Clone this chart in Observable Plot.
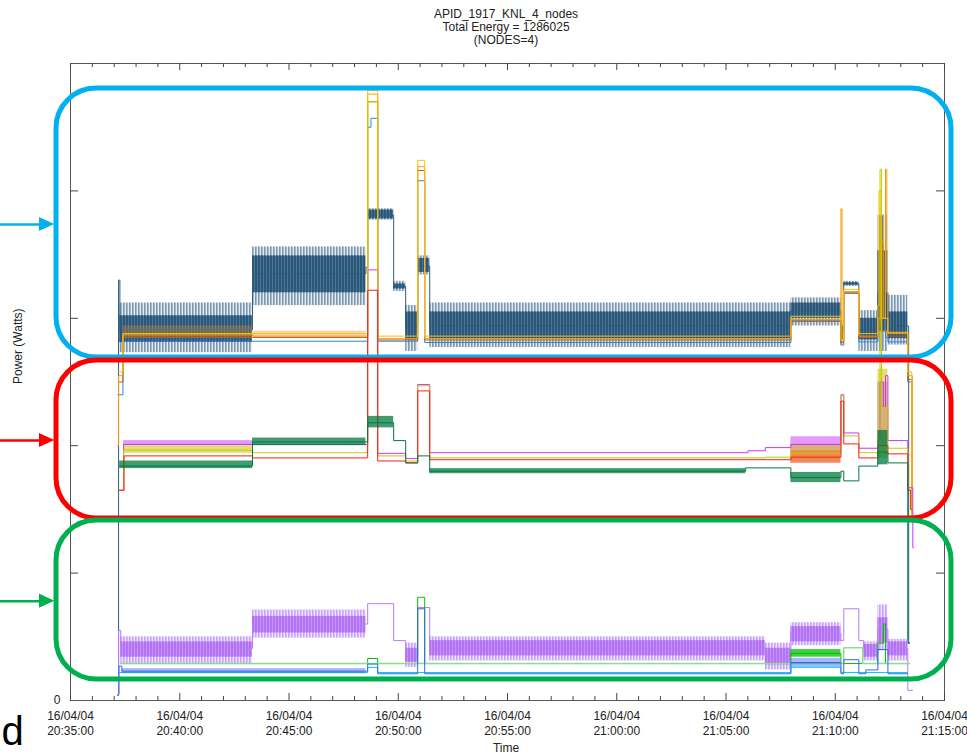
<!DOCTYPE html>
<html><head><meta charset="utf-8">
<script src="https://cdn.jsdelivr.net/npm/d3@7"></script>
<script src="https://cdn.jsdelivr.net/npm/@observablehq/plot@0.6"></script>
<style>
html,body{margin:0;padding:0;background:#fff;}
#chart{width:967px;height:755px;overflow:hidden;}
svg{display:block;}
</style></head><body><div id="chart"></div>
<script>
// ---------- text ----------
const titleLines = ["APID_1917_KNL_4_nodes", "Total Energy = 1286025", "(NODES=4)"];
const xLabel = "Time";
const yLabel = "Power (Watts)";
const cornerLetter = "d";

// ---------- axes ----------
const startTime = new Date(2016, 3, 4, 20, 35, 0);   // minutes are counted from here
const endMinute = 40;
const majorTickMinutes = [0, 5, 10, 15, 20, 25, 30, 35, 40];
const minorTickMinutes = d3.range(1, 40).filter(m => m % 5 !== 0);
const yTickValues = [100, 200, 300, 400];
const yTickLabels = [{v: 0, label: "0"}];

// ---------- top group (blue box) ----------
// noisy total trace: [t0, t1, low, high]
const navyEnvelope = [
  [2.2, 8.33, 273, 312], [8.33, 13.52, 310, 356], [13.6, 14.79, 377, 386],
  [14.79, 15.34, 321, 329], [15.34, 15.89, 274, 310], [15.89, 16.44, 334, 349],
  [16.44, 32.97, 277, 312], [32.97, 35.26, 294, 316], [35.26, 35.39, 279, 298],
  [35.39, 36.08, 325, 329], [36.08, 36.95, 274, 306], [36.95, 37.41, 274, 381],
  [37.41, 38.32, 279, 318]
];
const navyCore = [
  [2.2, 8.33, 281, 302], [8.33, 13.52, 320, 349], [13.6, 14.79, 378, 385],
  [14.79, 15.34, 323, 327], [15.34, 15.89, 283, 305], [15.89, 16.44, 336, 347],
  [16.44, 32.97, 284, 305], [32.97, 35.26, 300, 312], [35.26, 35.39, 283, 294],
  [35.39, 36.08, 326, 328], [36.08, 36.95, 283, 300], [36.95, 37.41, 290, 353],
  [37.41, 38.32, 284, 305]
];
const navyTrace = [[2.15, 4], [2.2, 330], [2.26, 291], [8.33, 335], [13.52, 340], [13.6, 381], [14.79, 325],
  [15.34, 294], [15.89, 341], [16.44, 294], [32.97, 306], [35.26, 289], [35.39, 327], [36.08, 291],
  [36.95, 320], [37.41, 294], [38.32, 294], [38.36, 45], [38.42, 45]];
const orangeNode = [[2.15, 200], [2.2, 255], [2.4, 287], [8.33, 286], [13.6, 476], [14.06, 284], [15.89, 419],
  [16.21, 284], [32.97, 299], [35.26, 386], [35.31, 282], [35.39, 321], [36.08, 286], [36.95, 300], [37.1, 360],
  [37.2, 300], [37.3, 417], [37.36, 320], [37.41, 288], [38.32, 255], [38.53, 140], [38.56, 140]];
const darkOrangeNode = [[2.2, 250], [2.4, 285], [8.33, 285], [13.6, 470], [14.06, 283], [15.89, 416], [16.21, 283],
  [32.97, 298], [35.26, 281], [35.39, 320], [36.08, 285], [36.95, 295], [37.05, 380], [37.15, 290], [37.41, 286],
  [38.32, 252], [38.5, 140], [38.53, 140]];
const blueNode = [[2.17, 240], [2.4, 282], [8.33, 282], [13.6, 450], [13.75, 457], [14.06, 282], [15.89, 408],
  [16.21, 281], [32.97, 297.6], [35.26, 279], [35.39, 319.6], [36.08, 281.5], [36.95, 290], [37.15, 330],
  [37.3, 285], [37.41, 281.5], [38.32, 250], [38.5, 140], [38.53, 140]];
const goldNode = [[2.2, 258], [2.4, 288], [8.33, 288], [13.6, 479], [14.06, 286], [15.89, 424], [16.21, 286],
  [32.97, 301.6], [35.26, 283], [35.39, 322.7], [36.08, 288], [36.95, 310], [37.0, 400], [37.1, 300],
  [37.41, 289], [38.32, 258], [38.5, 140], [38.53, 140]];
const orangeNoise = [[2.4, 8.33, 284, 294], [8.33, 13.52, 285, 290]];

// ---------- middle group (red box) ----------
const purpleMid = [[2.22, 165], [2.43, 201], [8.33, 201], [13.6, 338], [14.06, 194], [15.34, 190], [15.89, 248],
  [16.44, 194.5], [31.0, 196], [31.8, 198.5], [32.97, 201], [35.26, 240], [35.39, 210], [36.08, 198],
  [36.95, 205], [37.05, 250], [37.2, 230], [37.3, 255], [37.41, 204], [38.32, 167], [38.55, 120], [38.6, 120]];
const yellowMid = [[2.22, 165], [2.43, 196.5], [8.33, 194.5], [13.6, 470], [14.06, 192], [15.34, 188], [15.89, 247],
  [16.44, 190.5], [31.8, 191], [32.97, 194], [35.26, 239], [35.39, 207.7], [36.08, 194.5], [36.95, 205],
  [37.05, 417], [37.12, 230], [37.41, 198], [38.32, 165], [38.5, 140], [38.55, 140]];
const redMid = [[2.22, 165], [2.45, 192], [8.33, 190.4], [13.6, 322], [14.06, 188], [15.34, 186.5], [15.89, 243],
  [16.44, 189], [32.97, 191], [35.26, 235], [35.39, 201.4], [36.08, 190.4], [36.95, 200], [37.41, 193.6],
  [38.32, 165], [38.45, 150], [38.5, 150]];
const greenMid = [[2.25, 184], [8.33, 203], [13.6, 218], [14.79, 204], [15.34, 186.5], [15.89, 192], [16.44, 180],
  [30.9, 182.6], [32.97, 175], [35.26, 180], [35.39, 172.4], [36.08, 184], [36.95, 195], [37.41, 186.5],
  [38.32, 45], [38.4, 45]];
const purpleNoise = [[2.43, 8.33, 200, 204], [32.97, 35.26, 196, 207], [36.95, 37.41, 200, 250]];
const yellowNoise = [[2.43, 8.33, 194, 200], [32.97, 35.26, 187, 201], [36.95, 37.41, 190, 260]];
const redNoise = [[32.97, 35.26, 186, 196]];
const greenNoise = [[2.25, 8.33, 182, 188], [8.33, 13.52, 200, 206], [13.6, 14.79, 214, 223],
  [16.44, 30.9, 178, 182], [32.97, 35.26, 171, 179], [36.95, 37.41, 185, 212]];

// ---------- bottom group (green box) ----------
const lavenderTrace = [[2.17, 5], [2.2, 55], [2.3, 41], [8.33, 60], [13.6, 76], [14.79, 47], [15.34, 35],
  [15.89, 73], [16.44, 41], [31.8, 35], [32.97, 52.5], [35.26, 47], [35.39, 72], [36.08, 47], [36.3, 39],
  [36.95, 56], [37.41, 41], [38.32, 8], [38.55, 8]];
const lavenderEnvelope = [[2.3, 8.33, 29, 50], [8.33, 13.52, 49, 71], [15.34, 15.89, 26, 45], [16.44, 31.8, 31, 50],
  [31.8, 32.97, 24, 45], [32.97, 35.26, 43, 61], [36.3, 36.95, 31, 46], [36.95, 37.41, 39, 75], [37.41, 38.32, 31, 48]];
const lavenderCore = [[2.3, 8.33, 34, 46], [8.33, 13.52, 53, 66], [15.34, 15.89, 30, 41], [16.44, 31.8, 35, 47],
  [31.8, 32.97, 28, 41], [32.97, 35.26, 46, 58], [36.3, 36.95, 34, 44], [36.95, 37.41, 45, 65], [37.41, 38.32, 35, 46]];
const lightGreenLow = [[2.3, 29], [35.39, 41.5], [36.26, 29], [38.4, 29]];
const brightGreenLow = [[2.3, 29], [13.6, 33], [14.06, 29], [15.89, 81], [16.21, 29], [32.97, 37], [35.26, 29],
  [36.95, 45], [37.2, 60], [37.3, 29], [38.32, 29], [38.4, 29]];
const brightGreenNoise = [[32.97, 35.26, 34, 40]];
const blueLow = [[2.2, 5], [2.22, 27], [2.35, 23], [13.6, 28.6], [14.06, 21], [15.89, 72], [16.21, 21],
  [32.97, 29.8], [35.26, 21], [35.39, 32], [36.08, 21], [36.4, 24], [36.95, 40], [37.41, 21], [38.32, 21]];
const blueNoise = [[2.35, 13.52, 21, 25], [32.97, 35.26, 26, 33]];
const cyanLow = [[2.25, 22], [13.6, 26], [14.06, 22], [32.97, 26], [35.26, 22], [38.32, 22]];

// ---------- annotation overlay (data coordinates) ----------
const boxes = [
  {color: "#00b0f0", t0: -0.64, t1: 40.32, v0: 269.2, v1: 480.4, arrowV: 373.6},
  {color: "#ff0000", t0: -0.64, t1: 40.32, v0: 142.9, v1: 266.9, arrowV: 204},
  {color: "#00b050", t0: -0.64, t1: 40.32, v0: 16.5, v1: 141.3, arrowV: 78}
];

// ---------- drawing ----------
const T = m => new Date(startTime.getTime() + m * 60000);
const fmt = d3.timeFormat("%y/%m/%d\n%H:%M:%S");
const FONT = "'Liberation Sans', Arial, Helvetica, sans-serif";

const line = (arr, color, sw = 1) => Plot.line(arr, {x: d => T(d[0]), y: d => d[1], stroke: color, strokeWidth: sw, curve: "step-after"});
const band = (arr, color, op = 1) => Plot.rect(arr, {x1: d => T(d[0]), x2: d => T(d[1]), y1: d => d[2], y2: d => d[3], fill: color, fillOpacity: op});

const marks = [
  // data
  band(navyEnvelope, "url(#navyStripes)"),
  band(navyCore, "url(#navyCoreStripes)"),
  line(navyTrace, "#2f5e81"),
  band(orangeNoise, "#e08a2e", 0.35),
  line(blueNode, "#2e86de"),
  line(darkOrangeNode, "#c55a11"),
  line(orangeNode, "#f39c12"),
  line(goldNode, "#ffc000"),

  band(purpleNoise, "#cc33ff", 0.5),
  band(yellowNoise, "#c8c800", 0.55),
  band(redNoise, "#ff2020", 0.45),
  line(purpleMid, "#cc33ff"),
  line(yellowMid, "#c8c800"),
  line(redMid, "#ff1a1a"),
  band(greenNoise, "#007a3d", 0.75),
  line(greenMid, "#007a3d"),

  band(lavenderEnvelope, "url(#lavStripes)"),
  band(lavenderCore, "url(#lavCoreStripes)"),
  line(lavenderTrace, "#b77cf5"),
  band(brightGreenNoise, "#00c000", 0.75),
  line(brightGreenLow, "#00c000"),
  line(lightGreenLow, "#8fdc8f", 1.5),
  line(cyanLow, "#00ccff"),
  band(blueNoise, "#3366ee", 0.45),
  line(blueLow, "#3366ee"),

  // frame and ticks
  Plot.frame({stroke: "#555", strokeWidth: 1}),
  Plot.ruleX(majorTickMinutes, {x: m => T(m), insetTop: 630, stroke: "#444"}),
  Plot.ruleX(minorTickMinutes, {x: m => T(m), insetTop: 633, stroke: "#444"}),
  Plot.ruleX(majorTickMinutes, {x: m => T(m), insetBottom: 630, stroke: "#444"}),
  Plot.ruleX(minorTickMinutes, {x: m => T(m), insetBottom: 633, stroke: "#444"}),
  Plot.ruleY(yTickValues, {y: d => d, insetRight: 866, stroke: "#444"}),
  Plot.ruleY(yTickValues, {y: d => d, insetLeft: 866, stroke: "#444"}),

  // tick labels and titles
  Plot.text(majorTickMinutes, {x: m => T(m), text: m => fmt(T(m)), frameAnchor: "bottom", dy: 10, lineAnchor: "top",
    lineHeight: 1.17, fontSize: 12, fill: "#222", fontFamily: FONT}),
  Plot.text(yTickLabels, {y: d => d.v, text: d => d.label, frameAnchor: "left", dx: -13.5, textAnchor: "middle",
    lineAnchor: "middle", fontSize: 12, fill: "#222", fontFamily: FONT}),
  Plot.text([titleLines.join("\n")], {text: d => d, frameAnchor: "top", dx: -1.5, dy: -55, lineAnchor: "top",
    lineHeight: 1.1, fontSize: 12, fill: "#222", fontFamily: FONT}),
  Plot.text([xLabel], {text: d => d, frameAnchor: "bottom", dx: -1.5, dy: 47.5, lineAnchor: "middle",
    fontSize: 12, fill: "#222", fontFamily: FONT}),
  Plot.text([yLabel], {text: d => d, frameAnchor: "left", dx: -52, dy: 2, rotate: -90, lineAnchor: "middle",
    fontSize: 12, fill: "#222", fontFamily: FONT}),
  Plot.text([cornerLetter], {text: d => d, frameAnchor: "bottom-left", dx: -69, dy: 32, textAnchor: "start",
    lineAnchor: "middle", fontSize: 40, fill: "#000", fontFamily: FONT})
];

// annotation boxes and arrows (drawn over the data)
for (const b of boxes) {
  marks.push(Plot.rect([b], {x1: d => T(d.t0), x2: d => T(d.t1), y1: d => d.v0, y2: d => d.v1,
    stroke: b.color, strokeWidth: 5, fill: "none", rx: 40}));
  marks.push(Plot.link([b], {x1: () => T(-3.4), x2: () => T(-1.3), y1: d => d.arrowV, y2: d => d.arrowV,
    stroke: b.color, strokeWidth: 2.5}));
  marks.push(Plot.areaY([[-1.42, b.arrowV - 5.5, b.arrowV + 5.5], [-0.72, b.arrowV, b.arrowV]],
    {x: d => T(d[0]), y1: d => d[1], y2: d => d[2], fill: b.color, curve: "linear"}));
}

const chart = Plot.plot({
  width: 967,
  height: 755,
  marginLeft: 70,
  marginRight: 23,
  marginTop: 63,
  marginBottom: 55,
  style: {fontFamily: FONT, background: "#fff", overflow: "visible"},
  x: {type: "time", domain: [T(0), T(endMinute)], axis: null},
  y: {domain: [0, 500], axis: null},
  marks
});

// hatch patterns that give the noisy bands their striped texture
const NS = "http://www.w3.org/2000/svg";
const defs = document.createElementNS(NS, "defs");
function stripes(id, bg, fg, w, sw) {
  const p = document.createElementNS(NS, "pattern");
  p.setAttribute("id", id);
  p.setAttribute("patternUnits", "userSpaceOnUse");
  p.setAttribute("width", w);
  p.setAttribute("height", 20);
  const r0 = document.createElementNS(NS, "rect");
  r0.setAttribute("width", w); r0.setAttribute("height", 20); r0.setAttribute("fill", bg);
  const r1 = document.createElementNS(NS, "rect");
  r1.setAttribute("width", sw); r1.setAttribute("height", 20); r1.setAttribute("fill", fg);
  p.appendChild(r0); p.appendChild(r1);
  defs.appendChild(p);
}
stripes("navyStripes", "#e3eaf0", "#7d99b0", 3, 1.6);
stripes("navyCoreStripes", "#4d7595", "#2a5678", 3, 2);
stripes("lavStripes", "#efe4ff", "#c9a2fb", 3, 1.6);
stripes("lavCoreStripes", "#c693fb", "#b272f3", 3, 2);
chart.insertBefore(defs, chart.firstChild);

document.getElementById("chart").appendChild(chart);
</script>
</body></html>
